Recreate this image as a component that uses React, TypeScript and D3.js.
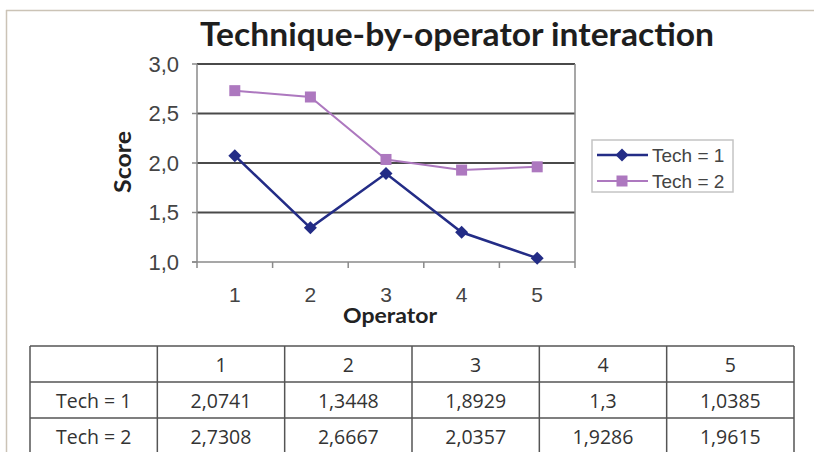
import React from "react";
import * as d3 from "d3";

const operators = ["1", "2", "3", "4", "5"];
const tech1 = [2.0741, 1.3448, 1.8929, 1.3, 1.0385];
const tech2 = [2.7308, 2.6667, 2.0357, 1.9286, 1.9615];
const seriesNames = ["Tech = 1", "Tech = 2"];
const yTicks = [1.0, 1.5, 2.0, 2.5, 3.0];

const W = 814;
const H = 452;
const plot = { left: 197, right: 575, top: 64, bottom: 262 };
const C1 = "#232c86";
const C2 = "#ad78bf";

const fmt = (v: number) => String(v).replace(".", ",");
const fmtTick = (v: number) => v.toFixed(1).replace(".", ",");

export default function App() {
  const x = d3.scaleBand<string>().domain(operators).range([plot.left, plot.right]);
  const y = d3.scaleLinear().domain([1, 3]).range([plot.bottom, plot.top]);
  const cx = (d: string) => (x(d) as number) + x.bandwidth() / 2;
  const line = d3
    .line<number>()
    .x((_, i) => cx(operators[i]))
    .y((v) => y(v));

  const boundaries = [...operators.map((d) => x(d) as number), plot.right];

  // table layout
  const tCols = d3.scaleBand<string>().domain(["", ...operators]).range([30, 794]);
  const tRows = d3.scaleBand<string>().domain(["head", ...seriesNames]).range([346, 454]);
  const rowsData = [tech1, tech2];

  const diamond = (px: number, py: number, r: number) =>
    `M${px},${py - r}L${px + r},${py}L${px},${py + r}L${px - r},${py}Z`;

  return (
    <svg
      width={W}
      height={H}
      style={{ position: "absolute", left: 0, top: 0, background: "#fff" }}
    >
      {/* page frame */}
      <line x1={6} x2={W} y1={10.5} y2={10.5} stroke="#cbc3b6" strokeWidth={1.5} />
      <line x1={6.5} x2={6.5} y1={10} y2={H} stroke="#cbc3b6" strokeWidth={1.5} />

      {/* title */}
      <text
        x={457}
        y={46}
        textAnchor="middle"
        fontFamily="Lato, 'Open Sans', sans-serif"
        fontWeight={700}
        fontSize={32}
        fill="#1e1e1e"
        textLength={514}
        lengthAdjust="spacingAndGlyphs"
      >
        Technique-by-operator interaction
      </text>

      {/* gridlines */}
      {yTicks.slice(1).map((t) => (
        <line
          key={t}
          x1={plot.left}
          x2={plot.right}
          y1={y(t)}
          y2={y(t)}
          stroke="#4a4a4a"
          strokeWidth={2}
        />
      ))}
      {/* plot frame */}
      <line x1={plot.left} x2={plot.left} y1={plot.top} y2={plot.bottom} stroke="#8a8a8a" strokeWidth={1.5} />
      <line x1={plot.right} x2={plot.right} y1={plot.top} y2={plot.bottom} stroke="#8a8a8a" strokeWidth={1.5} />
      <line x1={plot.left - 5} x2={plot.right} y1={plot.bottom} y2={plot.bottom} stroke="#8a8a8a" strokeWidth={1.5} />

      {/* y ticks */}
      {yTicks.map((t) => (
        <g key={t}>
          <line x1={plot.left - 5} x2={plot.left} y1={y(t)} y2={y(t)} stroke="#8a8a8a" strokeWidth={1.5} />
          <text
            x={179}
            y={y(t)}
            dy="0.36em"
            textAnchor="end"
            fontFamily="'Liberation Sans', Arial, sans-serif"
            fontSize={22}
            fill="#444"
          >
            {fmtTick(t)}
          </text>
        </g>
      ))}

      {/* x ticks */}
      {boundaries.map((b, i) => (
        <line key={i} x1={b} x2={b} y1={plot.bottom} y2={plot.bottom + 6} stroke="#8a8a8a" strokeWidth={1.5} />
      ))}
      {operators.map((d) => (
        <text
          key={d}
          x={cx(d)}
          y={294}
          dy="0.36em"
          textAnchor="middle"
          fontFamily="'Liberation Sans', Arial, sans-serif"
          fontSize={21}
          fill="#444"
        >
          {d}
        </text>
      ))}

      {/* axis titles */}
      <text
        x={390}
        y={323}
        textAnchor="middle"
        fontFamily="Lato, 'Open Sans', sans-serif"
        fontWeight={700}
        fontSize={21}
        fill="#222"
        textLength={94}
        lengthAdjust="spacingAndGlyphs"
      >
        Operator
      </text>
      <text
        transform={`translate(131,162) rotate(-90)`}
        textAnchor="middle"
        fontFamily="Lato, 'Open Sans', sans-serif"
        fontWeight={700}
        fontSize={22}
        fill="#222"
        textLength={62}
        lengthAdjust="spacingAndGlyphs"
      >
        Score
      </text>

      {/* series */}
      <path d={line(tech2) as string} fill="none" stroke={C2} strokeWidth={2} />
      {tech2.map((v, i) => (
        <rect key={i} x={cx(operators[i]) - 5.5} y={y(v) - 5.5} width={11} height={11} fill={C2} />
      ))}
      <path d={line(tech1) as string} fill="none" stroke={C1} strokeWidth={2.5} />
      {tech1.map((v, i) => (
        <path key={i} d={diamond(cx(operators[i]), y(v), 6.5)} fill={C1} />
      ))}

      {/* legend */}
      <rect x={592} y={140} width={141} height={52} fill="none" stroke="#c4c4c4" strokeWidth={1.5} />
      {seriesNames.map((s, i) => {
        const ly = 155 + i * 26;
        const col = i === 0 ? C1 : C2;
        return (
          <g key={s}>
            <line x1={597} x2={648} y1={ly} y2={ly} stroke={col} strokeWidth={i === 0 ? 2.5 : 2} />
            {i === 0 ? (
              <path d={diamond(622, ly, 6.5)} fill={col} />
            ) : (
              <rect x={616.5} y={ly - 5.5} width={11} height={11} fill={col} />
            )}
            <text
              x={652}
              y={ly}
              dy="0.36em"
              fontFamily="'Liberation Sans', Arial, sans-serif"
              fontSize={19}
              fill="#444"
            >
              {s}
            </text>
          </g>
        );
      })}

      {/* table */}
      <g fontFamily="'Open Sans', sans-serif" fontSize={19.5} fill="#333">
        {tRows.domain().map((r) => (
          <line
            key={r}
            x1={30}
            x2={794}
            y1={tRows(r) as number}
            y2={tRows(r) as number}
            stroke="#555"
            strokeWidth={1.5}
          />
        ))}
        {tCols.domain().map((c) => (
          <line
            key={"c" + c}
            x1={tCols(c) as number}
            x2={tCols(c) as number}
            y1={346}
            y2={H}
            stroke="#555"
            strokeWidth={1.5}
          />
        ))}
        <line x1={794} x2={794} y1={346} y2={H} stroke="#555" strokeWidth={1.5} />
        {operators.map((d) => (
          <text
            key={"h" + d}
            x={(tCols(d) as number) + tCols.bandwidth() / 2}
            y={(tRows("head") as number) + tRows.bandwidth() / 2 + 1}
            dy="0.36em"
            textAnchor="middle"
          >
            {d}
          </text>
        ))}
        {seriesNames.map((s, ri) => (
          <g key={"r" + s}>
            <text
              x={(tCols("") as number) + tCols.bandwidth() / 2}
              y={(tRows(s) as number) + tRows.bandwidth() / 2 + 1}
              dy="0.36em"
              textAnchor="middle"
            >
              {s}
            </text>
            {rowsData[ri].map((v, ci) => (
              <text
                key={ci}
                x={(tCols(operators[ci]) as number) + tCols.bandwidth() / 2}
                y={(tRows(s) as number) + tRows.bandwidth() / 2 + 1}
                dy="0.36em"
                textAnchor="middle"
              >
                {fmt(v)}
              </text>
            ))}
          </g>
        ))}
      </g>
    </svg>
  );
}
